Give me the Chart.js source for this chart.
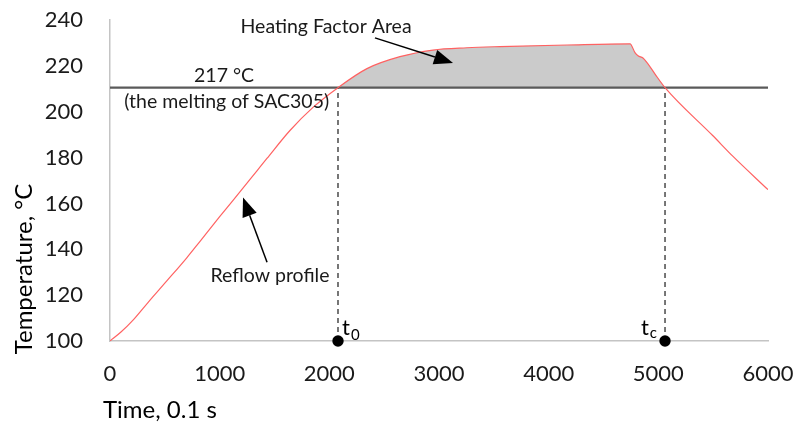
<!DOCTYPE html>
<html>
<head>
<meta charset="utf-8">
<script src="https://cdn.jsdelivr.net/npm/chart.js@4"></script>
<style>
  html, body { margin: 0; padding: 0; background: #fff; }
  #wrap { width: 797px; height: 426px; }
</style>
</head>
<body>
<div id="wrap"><canvas id="myChart" width="797" height="426"></canvas></div>
<script>
// reflow profile (time in 0.1 s, temperature in °C)
const timeValues = [0, 100, 210, 350, 520, 700, 821, 1000, 1122, 1340, 1431, 1641, 1851, 2079,
  2343, 2644, 2945, 3255, 3556, 4167, 4742, 4787, 4815, 4860, 4897, 4970, 5061, 5498, 5681, 6000];
const tempValues = [100, 103.9, 109.1, 117.0, 126.3, 136.3, 143.5, 154.2, 161.3, 174.2, 179.6, 191.8, 201.9, 210.5,
  218.8, 224.0, 226.9, 227.9, 228.4, 229.1, 229.6, 225.8, 224.4, 223.4, 221.4, 216.4, 210.5, 189.5, 180.5, 166.0];

const meltTemp = 210.5;          // where the melting line is drawn
const crossTimes = [2079, 5061]; // t0 and tc
const crossLabels = ['0', 'c'];
const xTicks = [0, 1000, 2000, 3000, 4000, 5000, 6000];
const yTicks = [100, 120, 140, 160, 180, 200, 220, 240];

const FONT = 'Lato';
const TEXT = '#1a1a1a';

const profile = timeValues.map((t, i) => ({ x: t, y: tempValues[i] }));
const areaPts = profile.filter(p => p.x >= crossTimes[0] && p.x <= crossTimes[1]);

function arrow(ctx, x1, y1, x2, y2) {
  const ang = Math.atan2(y2 - y1, x2 - x1);
  const len = 19, half = 7.5;
  const bx = x2 - len * Math.cos(ang), by = y2 - len * Math.sin(ang);
  ctx.beginPath();
  ctx.moveTo(x1, y1);
  ctx.lineTo(bx, by);
  ctx.lineWidth = 1.5;
  ctx.strokeStyle = '#000';
  ctx.stroke();
  ctx.beginPath();
  ctx.moveTo(x2, y2);
  ctx.lineTo(bx + half * Math.sin(ang), by - half * Math.cos(ang));
  ctx.lineTo(bx - half * Math.sin(ang), by + half * Math.cos(ang));
  ctx.closePath();
  ctx.fillStyle = '#000';
  ctx.fill();
}

const notes = {
  id: 'notes',
  afterDraw(chart) {
    const { ctx, scales: { x, y } } = chart;
    ctx.save();
    ctx.fillStyle = TEXT;
    ctx.textAlign = 'center';
    ctx.textBaseline = 'middle';
    ctx.font = `19.5px ${FONT}`;
    ctx.fillText('217 °C', x.getPixelForValue(1040), y.getPixelForValue(215.7));
    ctx.fillText('(the melting of SAC305)', x.getPixelForValue(1064), y.getPixelForValue(204.3));
    ctx.fillText('Heating Factor Area', x.getPixelForValue(1970), y.getPixelForValue(237.0));
    ctx.fillText('Reflow profile', x.getPixelForValue(1459), y.getPixelForValue(128.3));

    arrow(ctx, x.getPixelForValue(2416), y.getPixelForValue(232.2), x.getPixelForValue(3128), y.getPixelForValue(221.3));
    arrow(ctx, x.getPixelForValue(1432), y.getPixelForValue(134.3), x.getPixelForValue(1213), y.getPixelForValue(162.6));

    // t0 / tc labels next to the dots
    const by = y.getPixelForValue(100);
    ctx.textBaseline = 'alphabetic';
    ctx.textAlign = 'left';
    let px = x.getPixelForValue(crossTimes[0]) + 4;
    ctx.font = `22px ${FONT}`;
    ctx.fillText('t', px, by - 6);
    px += ctx.measureText('t').width + 1;
    ctx.font = `15px ${FONT}`;
    ctx.fillText(crossLabels[0], px, by - 1);

    ctx.font = `15px ${FONT}`;
    const subW = ctx.measureText(crossLabels[1]).width;
    ctx.font = `22px ${FONT}`;
    const tW = ctx.measureText('t').width;
    px = x.getPixelForValue(crossTimes[1]) - 8 - subW - 1 - tW;
    ctx.fillText('t', px, by - 6);
    ctx.font = `15px ${FONT}`;
    ctx.fillText(crossLabels[1], px + tW + 1, by - 3);

    // axis titles
    ctx.font = `24px ${FONT}`;
    ctx.textAlign = 'left';
    ctx.fillText('Time, 0.1 s', 103, 418);
    ctx.translate(32, 269);
    ctx.rotate(-Math.PI / 2);
    ctx.textAlign = 'center';
    ctx.fillText('Temperature, °C', 0, 0);
    ctx.restore();
  }
};

const ctx = document.getElementById('myChart').getContext('2d');
new Chart(ctx, {
  type: 'line',
  data: {
    datasets: [
      { // t0 / tc dots
        data: crossTimes.map(t => ({ x: t, y: 100 })),
        showLine: false, pointRadius: 5.7, pointBackgroundColor: '#000',
        pointBorderWidth: 0, clip: false, order: 0
      },
      { // reflow profile
        data: profile,
        borderColor: '#ff6262', borderWidth: 1.2, pointRadius: 0,
        cubicInterpolationMode: 'monotone', fill: false, order: 1
      },
      { // melting line
        data: [{ x: 0, y: meltTemp }, { x: 6000, y: meltTemp }],
        borderColor: '#5a5a5a', borderWidth: 2.2, pointRadius: 0, order: 2
      },
      {
        data: [{ x: crossTimes[0], y: 100 }, { x: crossTimes[0], y: meltTemp }],
        borderColor: '#555', borderWidth: 1.6, borderDash: [5, 4], pointRadius: 0, order: 3
      },
      {
        data: [{ x: crossTimes[1], y: 100 }, { x: crossTimes[1], y: meltTemp }],
        borderColor: '#555', borderWidth: 1.6, borderDash: [5, 4], pointRadius: 0, order: 3
      },
      { // heating factor area
        data: areaPts,
        borderWidth: 0, borderColor: 'rgba(0,0,0,0)', pointRadius: 0,
        cubicInterpolationMode: 'monotone',
        fill: { value: meltTemp }, backgroundColor: '#cbcbcb', order: 4
      }
    ]
  },
  options: {
    responsive: false,
    animation: false,
    events: [],
    layout: { padding: { top: 20, right: 29, left: 0, bottom: 0 } },
    plugins: { legend: { display: false }, tooltip: { enabled: false } },
    scales: {
      x: {
        type: 'linear', min: 0, max: 6000,
        afterFit: s => { s.height = 85; s.paddingLeft = 0; s.paddingRight = 0; },
        afterBuildTicks: s => { s.ticks = xTicks.map(v => ({ value: v })); },
        grid: { display: false, drawTicks: false },
        border: { color: '#c4c4c4', width: 1.5 },
        ticks: { padding: 20, color: TEXT, font: { family: FONT, size: 22 }, maxRotation: 0,
          callback: v => String(v) }
      },
      y: {
        type: 'linear', min: 100, max: 240,
        afterFit: s => { s.width = 110; s.paddingTop = 0; s.paddingBottom = 0; },
        afterBuildTicks: s => { s.ticks = yTicks.map(v => ({ value: v })); },
        grid: { display: false, drawTicks: false },
        border: { color: '#c4c4c4', width: 1.5 },
        ticks: { padding: 27, color: TEXT, font: { family: FONT, size: 22 },
          callback: v => String(v) }
      }
    }
  },
  plugins: [notes]
});
</script>
</body>
</html>
